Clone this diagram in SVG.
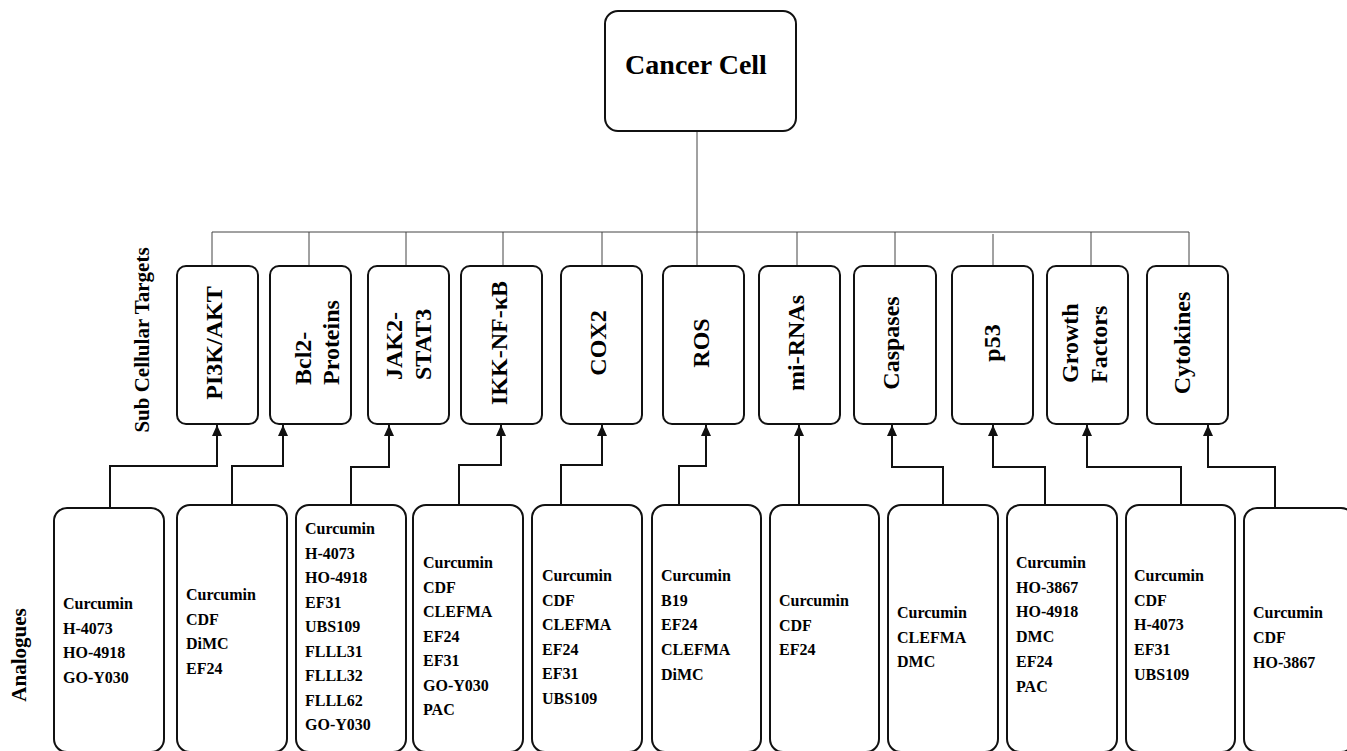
<svg xmlns="http://www.w3.org/2000/svg" width="1347" height="751" viewBox="0 0 1347 751">
<defs>
<style>
.box{fill:#fff;stroke:#111;stroke-width:2}
.t{font-family:"Liberation Serif","Times New Roman",serif;font-weight:bold;fill:#000}
.tg{font-size:24px}
.an{font-size:16px}
.lb{font-size:21px}
.bus{fill:none;stroke:#444;stroke-width:1}
.arr{fill:none;stroke:#111;stroke-width:2;marker-end:url(#ah)}
</style>
<marker id="ah" viewBox="0 0 11 10" refX="11" refY="5" markerWidth="11" markerHeight="10" markerUnits="userSpaceOnUse" orient="auto"><path d="M0,0 L11,5 L0,10 z" fill="#111"/></marker>
</defs>
<rect width="1347" height="751" fill="#fff"/>

<g id="labels">
<text class="t lb" x="149" y="340" text-anchor="middle" transform="rotate(-90 149 340)">Sub Cellular Targets</text>
<text class="t lb" x="26" y="655" text-anchor="middle" transform="rotate(-90 26 655)">Analogues</text>
</g>

<g id="connectors">
<path class="bus" d="M697,131 V232 M212,232 H1189 M212,232 V266 M309,232 V266 M406,232 V266 M503,232 V266 M602,232 V266 M697,232 V266 M797,232 V266 M895,232 V266 M993,234 V266 M1091,232 V266 M1189,232 V266"/>
<path class="arr" d="M110,508 V466 H217 V425"/>
<path class="arr" d="M232,508 V466 H283 V425"/>
<path class="arr" d="M351,505 V467 H389 V425"/>
<path class="arr" d="M459,505 V465 H501 V425"/>
<path class="arr" d="M561,505 V465 H602 V425"/>
<path class="arr" d="M679,505 V466 H706 V425"/>
<path class="arr" d="M799,505 V425"/>
<path class="arr" d="M943,505 V467 H892 V425"/>
<path class="arr" d="M1045,505 V467 H993 V425"/>
<path class="arr" d="M1181,505 V467 H1087 V425"/>
<path class="arr" d="M1275,508 V467 H1208 V425"/>
</g>

<g id="cancer-cell">
<rect class="box" x="605" y="11" width="191" height="120" rx="13"/>
<text class="t" x="696" y="74" font-size="28" text-anchor="middle">Cancer Cell</text>
</g>

<g id="t-pi3k"><rect class="box" x="177" y="266" width="81" height="158" rx="9"/>
<text class="t tg" x="222" y="343" text-anchor="middle" transform="rotate(-90 222 343)">PI3K/AKT</text></g>
<g id="t-bcl2"><rect class="box" x="270" y="266" width="81" height="158" rx="9"/>
<text class="t tg" x="311" y="385" transform="rotate(-90 311 385)">Bcl2-</text>
<text class="t tg" x="339" y="385" transform="rotate(-90 339 385)">Proteins</text></g>
<g id="t-jak2"><rect class="box" x="368" y="266" width="81" height="158" rx="9"/>
<text class="t tg" x="402" y="380" transform="rotate(-90 402 380)">JAK2-</text>
<text class="t tg" x="431" y="380" transform="rotate(-90 431 380)">STAT3</text></g>
<g id="t-ikk"><rect class="box" x="461" y="266" width="81" height="158" rx="9"/>
<text class="t tg" x="507" y="343" text-anchor="middle" transform="rotate(-90 507 343)">IKK-NF-κB</text></g>
<g id="t-cox2"><rect class="box" x="561" y="266" width="81" height="158" rx="9"/>
<text class="t tg" x="606" y="343" text-anchor="middle" transform="rotate(-90 606 343)">COX2</text></g>
<g id="t-ros"><rect class="box" x="663" y="266" width="81" height="158" rx="9"/>
<text class="t tg" x="709" y="343" text-anchor="middle" transform="rotate(-90 709 343)">ROS</text></g>
<g id="t-mirna"><rect class="box" x="759" y="266" width="81" height="158" rx="9"/>
<text class="t tg" x="804" y="343" text-anchor="middle" transform="rotate(-90 804 343)">mi-RNAs</text></g>
<g id="t-casp"><rect class="box" x="854" y="266" width="82" height="158" rx="9"/>
<text class="t tg" x="899" y="343" text-anchor="middle" transform="rotate(-90 899 343)">Caspases</text></g>
<g id="t-p53"><rect class="box" x="952" y="266" width="81" height="158" rx="9"/>
<text class="t tg" x="1000" y="343" text-anchor="middle" transform="rotate(-90 1000 343)">p53</text></g>
<g id="t-gf"><rect class="box" x="1047" y="266" width="81" height="158" rx="9"/>
<text class="t tg" x="1078" y="383" transform="rotate(-90 1078 383)">Growth</text>
<text class="t tg" x="1107" y="383" transform="rotate(-90 1107 383)">Factors</text></g>
<g id="t-cyto"><rect class="box" x="1147" y="266" width="81" height="158" rx="9"/>
<text class="t tg" x="1190" y="343" text-anchor="middle" transform="rotate(-90 1190 343)">Cytokines</text></g>

<g id="a1"><rect class="box" x="54" y="508" width="110" height="244" rx="13"/>
<text class="t an" x="63" y="609">Curcumin<tspan x="63" dy="24.5">H-4073</tspan><tspan x="63" dy="24.5">HO-4918</tspan><tspan x="63" dy="24.5">GO-Y030</tspan></text></g>
<g id="a2"><rect class="box" x="177" y="505" width="110" height="247" rx="13"/>
<text class="t an" x="186" y="600">Curcumin<tspan x="186" dy="24.5">CDF</tspan><tspan x="186" dy="24.5">DiMC</tspan><tspan x="186" dy="24.5">EF24</tspan></text></g>
<g id="a3"><rect class="box" x="296" y="505" width="110" height="247" rx="13"/>
<text class="t an" x="305" y="534">Curcumin<tspan x="305" dy="24.5">H-4073</tspan><tspan x="305" dy="24.5">HO-4918</tspan><tspan x="305" dy="24.5">EF31</tspan><tspan x="305" dy="24.5">UBS109</tspan><tspan x="305" dy="24.5">FLLL31</tspan><tspan x="305" dy="24.5">FLLL32</tspan><tspan x="305" dy="24.5">FLLL62</tspan><tspan x="305" dy="24.5">GO-Y030</tspan></text></g>
<g id="a4"><rect class="box" x="413" y="505" width="110" height="247" rx="13"/>
<text class="t an" x="423" y="568">Curcumin<tspan x="423" dy="24.5">CDF</tspan><tspan x="423" dy="24.5">CLEFMA</tspan><tspan x="423" dy="24.5">EF24</tspan><tspan x="423" dy="24.5">EF31</tspan><tspan x="423" dy="24.5">GO-Y030</tspan><tspan x="423" dy="24.5">PAC</tspan></text></g>
<g id="a5"><rect class="box" x="532" y="505" width="110" height="247" rx="13"/>
<text class="t an" x="542" y="581">Curcumin<tspan x="542" dy="24.6">CDF</tspan><tspan x="542" dy="24.6">CLEFMA</tspan><tspan x="542" dy="24.6">EF24</tspan><tspan x="542" dy="24.6">EF31</tspan><tspan x="542" dy="24.6">UBS109</tspan></text></g>
<g id="a6"><rect class="box" x="652" y="505" width="109" height="247" rx="13"/>
<text class="t an" x="661" y="581">Curcumin<tspan x="661" dy="24.7">B19</tspan><tspan x="661" dy="24.7">EF24</tspan><tspan x="661" dy="24.7">CLEFMA</tspan><tspan x="661" dy="24.7">DiMC</tspan></text></g>
<g id="a7"><rect class="box" x="770" y="505" width="109" height="247" rx="13"/>
<text class="t an" x="779" y="606">Curcumin<tspan x="779" dy="24.5">CDF</tspan><tspan x="779" dy="24.5">EF24</tspan></text></g>
<g id="a8"><rect class="box" x="888" y="505" width="110" height="247" rx="13"/>
<text class="t an" x="897" y="618">Curcumin<tspan x="897" dy="24.5">CLEFMA</tspan><tspan x="897" dy="24.5">DMC</tspan></text></g>
<g id="a9"><rect class="box" x="1007" y="505" width="110" height="247" rx="13"/>
<text class="t an" x="1016" y="568">Curcumin<tspan x="1016" dy="24.7">HO-3867</tspan><tspan x="1016" dy="24.7">HO-4918</tspan><tspan x="1016" dy="24.7">DMC</tspan><tspan x="1016" dy="24.7">EF24</tspan><tspan x="1016" dy="24.7">PAC</tspan></text></g>
<g id="a10"><rect class="box" x="1126" y="505" width="109" height="247" rx="13"/>
<text class="t an" x="1134" y="581">Curcumin<tspan x="1134" dy="24.7">CDF</tspan><tspan x="1134" dy="24.7">H-4073</tspan><tspan x="1134" dy="24.7">EF31</tspan><tspan x="1134" dy="24.7">UBS109</tspan></text></g>
<g id="a11"><rect class="box" x="1244" y="508" width="110" height="244" rx="13"/>
<text class="t an" x="1253" y="618">Curcumin<tspan x="1253" dy="25">CDF</tspan><tspan x="1253" dy="25">HO-3867</tspan></text></g>
</svg>
